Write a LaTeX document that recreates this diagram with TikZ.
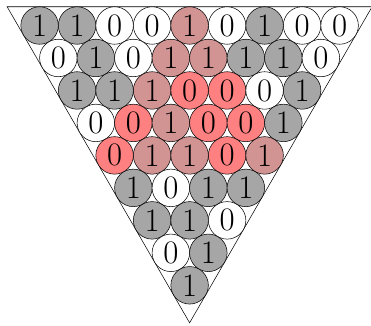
\documentclass[tikz,border=0pt]{standalone}
\usepackage{tikz}
\usepackage{xcolor}
\definecolor{bitOne}{HTML}{A6A6A6}
\definecolor{bitZero}{HTML}{FFFFFF}
\definecolor{hotOne}{HTML}{D29393}
\definecolor{hotZero}{HTML}{FF8080}
\tikzset{
  cell/.style={circle, draw=black, minimum size=1cm, inner sep=0pt, font=\Huge},
  one/.style={cell, fill=bitOne},
  zero/.style={cell, fill=bitZero},
  hotone/.style={cell, fill=hotOne},
  hotzero/.style={cell, fill=hotZero}
}

\begin{document}
\begin{tikzpicture}
  \useasboundingbox (-1.056cm,-7.987cm) rectangle (8.837cm,0.68cm);
  \coordinate (tl) at (-0.866cm,0.5cm);
  \coordinate (tr) at (8.866cm,0.5cm);
  \coordinate (apex) at (4cm,-7.928cm);
  \draw (tl) -- (tr) -- (apex) -- cycle;
  % row 1
  \node[one] (b11) at (0cm,0cm) {1};
  \node[one] (b12) at (1cm,0cm) {1};
  \node[zero] (b13) at (2cm,0cm) {0};
  \node[zero] (b14) at (3cm,0cm) {0};
  \node[hotone] (b15) at (4cm,0cm) {1};
  \node[zero] (b16) at (5cm,0cm) {0};
  \node[one] (b17) at (6cm,0cm) {1};
  \node[zero] (b18) at (7cm,0cm) {0};
  \node[zero] (b19) at (8cm,0cm) {0};
  % row 2
  \node[zero] (b21) at (0.5cm,-0.866cm) {0};
  \node[one] (b22) at (1.5cm,-0.866cm) {1};
  \node[zero] (b23) at (2.5cm,-0.866cm) {0};
  \node[hotone] (b24) at (3.5cm,-0.866cm) {1};
  \node[hotone] (b25) at (4.5cm,-0.866cm) {1};
  \node[one] (b26) at (5.5cm,-0.866cm) {1};
  \node[one] (b27) at (6.5cm,-0.866cm) {1};
  \node[zero] (b28) at (7.5cm,-0.866cm) {0};
  % row 3
  \node[one] (b31) at (1cm,-1.732cm) {1};
  \node[one] (b32) at (2cm,-1.732cm) {1};
  \node[hotone] (b33) at (3cm,-1.732cm) {1};
  \node[hotzero] (b34) at (4cm,-1.732cm) {0};
  \node[hotzero] (b35) at (5cm,-1.732cm) {0};
  \node[zero] (b36) at (6cm,-1.732cm) {0};
  \node[one] (b37) at (7cm,-1.732cm) {1};
  % row 4
  \node[zero] (b41) at (1.5cm,-2.598cm) {0};
  \node[hotzero] (b42) at (2.5cm,-2.598cm) {0};
  \node[hotone] (b43) at (3.5cm,-2.598cm) {1};
  \node[hotzero] (b44) at (4.5cm,-2.598cm) {0};
  \node[hotzero] (b45) at (5.5cm,-2.598cm) {0};
  \node[one] (b46) at (6.5cm,-2.598cm) {1};
  % row 5
  \node[hotzero] (b51) at (2cm,-3.464cm) {0};
  \node[hotone] (b52) at (3cm,-3.464cm) {1};
  \node[hotone] (b53) at (4cm,-3.464cm) {1};
  \node[hotzero] (b54) at (5cm,-3.464cm) {0};
  \node[hotone] (b55) at (6cm,-3.464cm) {1};
  % row 6
  \node[one] (b61) at (2.5cm,-4.330cm) {1};
  \node[zero] (b62) at (3.5cm,-4.330cm) {0};
  \node[one] (b63) at (4.5cm,-4.330cm) {1};
  \node[one] (b64) at (5.5cm,-4.330cm) {1};
  % row 7
  \node[one] (b71) at (3cm,-5.196cm) {1};
  \node[one] (b72) at (4cm,-5.196cm) {1};
  \node[zero] (b73) at (5cm,-5.196cm) {0};
  % row 8
  \node[zero] (b81) at (3.5cm,-6.062cm) {0};
  \node[one] (b82) at (4.5cm,-6.062cm) {1};
  % row 9
  \node[one] (b91) at (4cm,-6.928cm) {1};
\end{tikzpicture}
\end{document}
